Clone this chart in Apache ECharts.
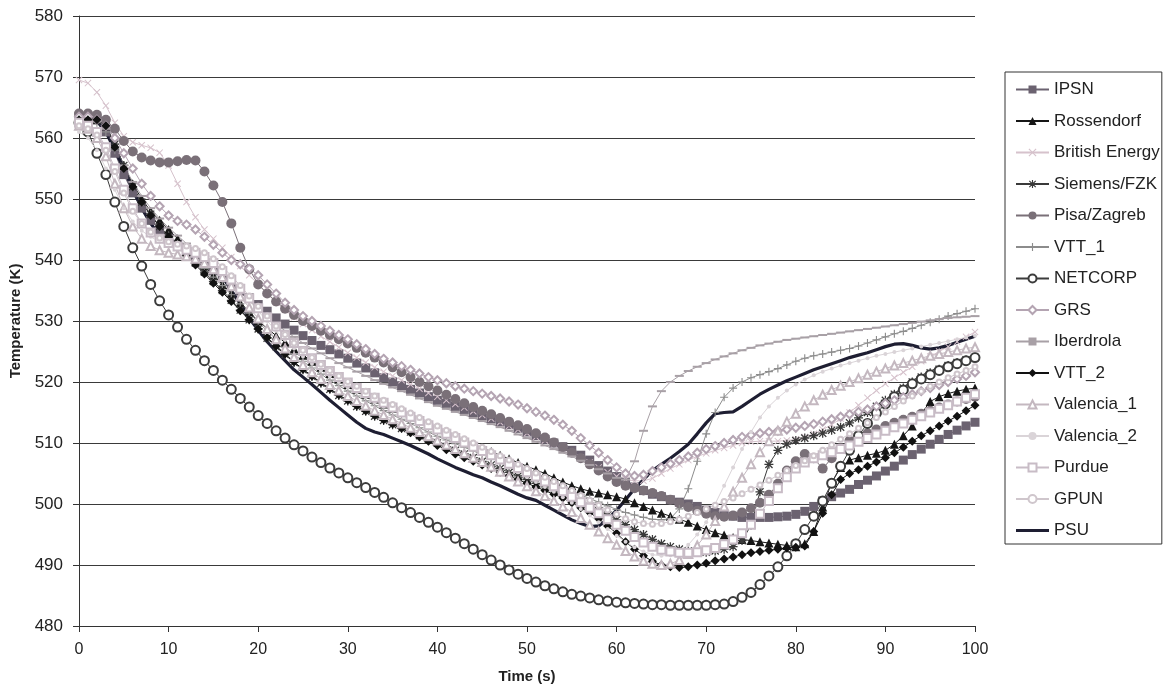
<!DOCTYPE html>
<html>
<head>
<meta charset="utf-8">
<script src="https://cdn.jsdelivr.net/npm/echarts@6/dist/echarts.min.js"></script>
<style>
  html, body { margin: 0; padding: 0; background: #ffffff; }
  #chart { width: 1164px; height: 690px; }
</style>
</head>
<body>
<div id="chart"></div>
<script>
// Time axis (s)
const time = [0,1,2,3,4,5,6,7,8,9,10,11,12,13,14,15,16,17,18,19,20,21,22,23,24,25,26,27,28,29,30,31,32,33,34,35,36,37,38,39,40,41,42,43,44,45,46,47,48,49,50,51,52,53,54,55,56,57,58,59,60,61,62,63,64,65,66,67,68,69,70,71,72,73,74,75,76,77,78,79,80,81,82,83,84,85,86,87,88,89,90,91,92,93,94,95,96,97,98,99,100];

// Temperature (K) per participant
const ipsn = [563.5,563.5,563,561,557.5,554,551,548.5,546.5,545,
  543.8,542.6,541.5,540.4,539.3,538.2,537.1,536,534.9,533.8,
  532.7,531.6,530.5,529.5,528.5,527.6,526.8,526,525.3,524.6,
  523.9,523.1,522.3,521.5,520.7,520,519.4,518.8,518.2,517.6,
  517,516.5,516,515.5,515,514.5,514,513.5,513,512.4,
  511.8,511.2,510.6,510,509.4,508.8,508,507.2,506.3,505.4,
  504.5,503.6,502.8,502.2,501.6,501.2,500.7,500.3,500,499.6,
  499,498.6,498.3,498,497.8,497.8,497.8,497.8,497.9,498,
  498.3,498.8,499.6,500.5,501.2,501.8,502.4,503.2,503.9,504.6,
  505.4,506.2,507.2,508.1,509,509.8,510.6,511.4,512.1,512.8,513.4];

const rossendorf = [563,563,563,562,559,555.5,552.5,550,548,546.5,
  545,543.5,542,540.5,539,537.5,536,534.5,533,531.5,
  530,528.8,527.6,526.5,525.4,524.4,523.4,522.4,521.4,520.5,
  519.6,518.8,518,517.2,516.4,515.7,515,514.3,513.6,512.9,
  512.2,511.6,511,510.4,509.8,509.2,508.6,508,507.4,506.8,
  506.2,505.6,505,504.3,503.6,503,502.5,502.1,501.8,501.5,
  501.2,500.8,500.2,499.6,499,498.5,498,497.5,497,496.4,
  495.8,495.3,494.9,494.5,494.2,494,493.8,493.6,493.4,493.2,
  493,493.5,495.5,499.5,503.5,506,507.2,507.6,508,508.3,
  508.8,509.8,511.2,512.8,514.8,516.8,517.6,518.1,518.5,518.8,519];

const britishEnergy = [569.5,569,567.5,565.3,562.5,560.3,559.3,558.8,558.4,557.6,
  555.5,552.5,549.5,547,545,543.5,542,540.5,539,537.5,
  536,534.5,533,531.8,530.6,529.5,528.5,527.5,526.6,525.7,
  524.8,524,523.2,522.4,521.7,521,520.3,519.6,518.9,518.2,
  517.6,517,516.4,515.8,515.2,514.6,514,513.4,512.8,512.2,
  511.6,511,510.4,509.8,509.1,508.4,507.6,506.8,506,505.2,
  504.5,504,503.8,503.8,504.2,505,505.8,506.5,507.2,507.8,
  508.3,508.8,509.2,509.6,510,510.2,510.3,510.3,510.3,510.4,
  510.6,511,511.5,512.2,513,514,515,516.2,517.4,518.6,
  519.7,520.7,521.6,522.5,523.4,524.2,525,525.8,526.6,527.4,528.2];

const siemensFzk = [563.5,563.5,563.2,562,559,555.5,552,549.5,547.5,545.5,
  543.8,542.3,541,539.5,538,536.5,535,533.4,531.8,530.2,
  528.7,527.2,525.8,524.5,523.2,522,520.9,519.8,518.8,517.8,
  516.9,516,515.2,514.4,513.7,513,512.4,511.8,511.2,510.6,
  510,509.4,508.8,508.2,507.6,507,506.4,505.8,505.2,504.6,
  504,503.4,502.8,502.2,501.6,501,500.3,499.6,498.9,498.2,
  497.4,496.6,495.8,495,494.2,493.5,493,492.6,492.3,492.1,
  492.1,492.3,492.6,493,494,496.5,502,506.5,508.8,509.8,
  510.4,510.8,511.2,511.6,512.1,512.6,513.3,514.1,515,516,
  517,518,519,520,520.8,521.5,522.1,522.7,523.2,523.6,524];

const pisaZagreb = [564,564,563.8,563,561.5,559.5,557.8,556.8,556.3,556,
  556,556.2,556.4,556.3,554.5,552.2,549.5,546,542,538.5,
  536,534.5,533.2,532,531,530,529.2,528.4,527.7,527,
  526.3,525.6,524.8,524,523.2,522.4,521.6,520.8,520,519.3,
  518.6,517.9,517.2,516.5,515.9,515.3,514.7,514.1,513.5,512.9,
  512.3,511.6,510.9,510.1,509.3,508.4,507.5,506.5,505.5,504.5,
  503.6,503,502.6,502.2,501.8,501.3,500.7,500.1,499.5,498.9,
  498.4,498,497.9,498.1,498.6,499.3,500.2,501.5,503.3,505.5,
  507,508.2,507.5,505.8,507.5,509.2,510.4,511,511.6,512.2,
  512.8,513.3,513.8,514.3,514.8,515.3,515.8,516.3,516.8,517.2,517.6];

const vtt1 = [563,563,562.5,561,558,555,552,549.5,547.5,545.5,
  544,542.6,541.3,540,538.6,537.2,535.8,534.3,532.8,531.3,
  529.8,528.4,527,525.7,524.5,523.4,522.3,521.3,520.3,519.4,
  518.5,517.7,516.9,516.1,515.3,514.6,513.9,513.2,512.5,511.8,
  511.1,510.5,509.9,509.3,508.7,508.1,507.5,506.9,506.3,505.7,
  505.1,504.5,503.9,503.3,502.7,502.1,501.5,500.9,500.3,499.7,
  499.1,498.6,498.2,497.8,497.5,497.4,497.6,499.2,502.5,507,
  511.5,515,517.5,519,520,520.7,521.2,521.7,522.2,522.8,
  523.4,523.9,524.3,524.6,524.9,525.2,525.5,525.9,526.4,526.9,
  527.4,527.9,528.3,528.8,529.3,529.8,530.3,530.8,531.2,531.6,532];

const netcorp = [562.5,561,557.5,554,549.5,545.5,542,539,536,533.3,
  531,529,527,525.2,523.5,521.9,520.3,518.8,517.3,515.9,
  514.5,513.2,512,510.8,509.7,508.7,507.7,506.8,505.9,505.1,
  504.3,503.5,502.7,501.9,501.1,500.2,499.4,498.6,497.8,497,
  496.2,495.3,494.4,493.5,492.6,491.7,490.8,490,489.2,488.5,
  487.8,487.2,486.6,486.1,485.6,485.2,484.9,484.6,484.3,484.1,
  483.9,483.8,483.7,483.6,483.5,483.5,483.4,483.4,483.4,483.4,
  483.4,483.5,483.6,484,484.7,485.5,486.8,488.2,489.7,491.5,
  493.5,495.8,498,500.5,503.4,506.2,508.8,511.2,513.2,514.9,
  516.4,517.6,518.7,519.7,520.5,521.2,521.9,522.5,523,523.5,524];

const grs = [563.5,563.5,563,562,560,557.5,555,552.5,550.5,548.8,
  547.3,546.4,545.8,545,543.8,542.5,541.2,540,539.3,538.6,
  537.5,536,534.5,533,531.8,530.8,530,529.2,528.4,527.7,
  527,526.2,525.4,524.6,523.8,523.2,522.6,522,521.4,520.8,
  520.3,519.8,519.3,518.9,518.5,518.1,517.7,517.3,516.8,516.3,
  515.7,515.1,514.5,513.8,513,512,510.8,509.6,508.4,507.2,
  506,505,504.6,504.8,505.4,506,506.6,507.2,507.8,508.4,
  509,509.5,510,510.5,511,511.3,511.6,511.8,512,512.2,
  512.5,512.8,513.1,513.5,513.9,514.3,514.7,515.1,515.5,516,
  516.5,517,517.5,518,518.5,519,519.5,520,520.5,521,521.6];

const iberdrola = [563,563,562.8,561.5,558.5,555.5,552.8,550.5,548.5,546.8,
  545.3,544,542.7,541.4,540.1,538.8,537.5,536.1,534.7,533.3,
  532,530.7,529.5,528.4,527.4,526.4,525.5,524.7,523.9,523.1,
  522.4,521.7,521,520.3,519.7,519.1,518.5,517.9,517.3,516.7,
  516.1,515.6,515.1,514.6,514.1,513.6,513.1,512.6,512,511.4,
  510.8,510.2,509.6,509,508.4,507.8,507.1,506.4,505.7,505,
  504.3,504,507,512,516,518.5,520,521,521.8,522.5,
  523.1,523.7,524.2,524.7,525.2,525.6,526,526.3,526.6,526.9,
  527.1,527.3,527.5,527.7,527.9,528.1,528.3,528.5,528.7,528.9,
  529.1,529.3,529.5,529.7,529.9,530.1,530.3,530.5,530.6,530.7,530.8];

const vtt2 = [563,563,563,562,558.5,555,552,549.5,547.3,545.5,
  543.8,542.2,540.7,539.2,537.7,536.2,534.7,533.2,531.7,530.2,
  528.7,527.3,525.9,524.6,523.3,522.1,521,519.9,518.9,517.9,
  517,516.1,515.3,514.5,513.8,513.1,512.4,511.7,511,510.3,
  509.6,508.9,508.2,507.6,507,506.4,505.8,505.2,504.6,504,
  503.4,502.8,502.2,501.6,501,500.2,499.4,498.6,497.6,496.4,
  495.2,493.8,492.6,491.5,490.6,490,489.7,489.6,489.7,490,
  490.3,490.7,491,491.3,491.7,492,492.2,492.4,492.6,492.8,
  492.9,493.1,495.5,498.5,501.5,504,505,505.6,506.2,506.9,
  507.6,508.4,509.3,510.3,511.2,512,512.8,513.6,514.4,515.3,516.2];

const valencia1 = [562,561.5,560,557,552.5,548.5,545.5,543.5,542.3,541.6,
  541.2,540.9,540.6,540.2,539.5,538.5,537.2,535.7,534,532.2,
  530.4,528.7,527,525.5,524.1,522.8,521.6,520.5,519.5,518.6,
  517.7,516.9,516.1,515.3,514.6,513.9,513.2,512.5,511.8,511.1,
  510.4,509.7,509,508.3,507.6,506.9,506.1,505.3,504.5,503.7,
  502.9,502.1,501.3,500.5,499.6,498.7,497.7,496.6,495.5,494.4,
  493.3,492.3,491.4,490.7,490.2,490,490.2,490.8,491.8,493.2,
  495,497.2,499.6,502,504.3,506.5,508.5,510.3,512,513.5,
  514.8,516,517,517.9,518.7,519.4,520,520.6,521.2,521.7,
  522.2,522.7,523.1,523.5,523.9,524.3,524.6,524.9,525.2,525.5,525.7];

const valencia2 = [561,560,558,555,551.5,548.5,546.3,544.8,543.8,543,
  542.4,542,541.6,541.1,540.4,539.4,538.1,536.6,535,533.3,
  531.6,530,528.4,526.9,525.5,524.2,523,521.9,520.9,520,
  519.1,518.3,517.5,516.7,516,515.3,514.6,513.9,513.2,512.5,
  511.8,511.1,510.4,509.7,509,508.3,507.6,506.8,506,505.2,
  504.4,503.6,502.8,502,501.1,500.2,499.2,498.1,497,495.9,
  494.8,493.8,492.9,492.2,491.7,491.5,491.6,492.2,493.3,495,
  497,500,503,506,509,511.8,514.2,516,517.4,518.6,
  519.6,520.4,521.1,521.7,522.2,522.7,523.1,523.5,523.9,524.3,
  524.6,524.9,525.2,525.5,525.8,526.1,526.4,526.7,527,527.3,527.6];

const purdue = [562.5,562,561,558.5,555,551.5,548.5,546,544.5,543.5,
  542.8,542.2,541.7,541.2,540.5,539.5,538.2,536.8,535.3,533.7,
  532.1,530.6,529.1,527.7,526.4,525.1,523.9,522.8,521.8,520.8,
  519.9,519,518.2,517.4,516.6,515.8,515,514.3,513.6,512.9,
  512.2,511.5,510.8,510.1,509.4,508.7,508,507.3,506.6,505.9,
  505.2,504.5,503.7,502.9,502.1,501.2,500.3,499.4,498.5,497.5,
  496.6,495.6,494.6,493.7,493,492.5,492.2,492,492,492.1,
  492.4,492.8,493.4,494.2,495.2,496.6,498.4,500.5,502.6,504.4,
  505.8,506.8,507.5,508,508.5,509,509.6,510.2,510.8,511.4,
  512,512.6,513.2,513.8,514.4,515,515.6,516.2,516.8,517.4,518];

const gpun = [562,561.5,560.5,558,554.5,551,548,546,544.6,543.6,
  543,542.6,542.3,541.9,541.2,540.2,538.9,537.4,535.8,534.1,
  532.4,530.8,529.2,527.8,526.4,525.2,524,522.9,521.9,521,
  520.1,519.3,518.5,517.7,517,516.3,515.6,514.9,514.2,513.5,
  512.8,512.1,511.4,510.7,510,509.3,508.6,507.9,507.2,506.5,
  505.8,505.1,504.4,503.7,503,502.2,501.4,500.6,499.8,499,
  498.3,497.6,497.1,496.8,496.7,496.8,497.1,497.5,498,498.6,
  499.2,499.8,500.4,501,501.7,502.4,503.1,503.9,504.7,505.5,
  506.3,507.1,507.9,508.8,509.7,510.6,511.5,512.4,513.3,514.2,
  515.1,516,516.9,517.7,518.5,519.3,520,520.7,521.3,521.9,522.5];

const psu = [563,563,562.8,561,558,555,551.5,548.5,546,544,
  542.5,542,541.7,541.4,540.8,539.3,537.3,535,532.8,530.5,
  528.5,526.6,525,523.5,522,520.8,519.6,518.3,517,515.8,
  514.6,513.4,512.4,511.8,511.4,510.8,510.2,509.6,508.9,508.2,
  507.4,506.7,506,505.4,504.8,504.3,503.6,503,502.3,501.6,
  501,500.6,499.8,499,498.2,497.4,496.8,496.3,496.4,497.5,
  499,500.7,502.5,504,505.5,506.5,507.5,508.6,509.8,511.5,
  513.3,514.8,515,515.1,516,517,518,518.8,519.5,520.2,
  520.8,521.4,522,522.5,523,523.5,524,524.4,524.8,525.3,
  525.8,526.2,526.3,526,525.6,525.4,525.6,526,526.5,527,527.5];

const seriesNames = ['IPSN','Rossendorf','British Energy','Siemens/FZK','Pisa/Zagreb','VTT_1','NETCORP','GRS','Iberdrola','VTT_2','Valencia_1','Valencia_2','Purdue','GPUN','PSU'];
const seriesValues = [ipsn, rossendorf, britishEnergy, siemensFzk, pisaZagreb, vtt1, netcorp, grs, iberdrola, vtt2, valencia1, valencia2, purdue, gpun, psu];

// Marker shapes
const PLUS = 'path://M4.3,0H5.7V4.3H10V5.7H5.7V10H4.3V5.7H0V4.3H4.3Z';
const CROSS = 'path://M1,0L5,4L9,0L10,1L6,5L10,9L9,10L5,6L1,10L0,9L4,5L0,1Z';
const STAR = 'path://M4.3,0H5.7V4.3H10V5.7H5.7V10H4.3V5.7H0V4.3H4.3Z M1.5,0.5L5,4L8.5,0.5L9.5,1.5L6,5L9.5,8.5L8.5,9.5L5,6L1.5,9.5L0.5,8.5L4,5L0.5,1.5Z';
const DASH = 'path://M0,4H10V6H0Z';
const BAR = 'path://M0,0H33V3.2H0Z';

// Per-series look: [line colour, marker, marker size, line width, marker border]
const looks = [
  ['#6b6270', 'rect', 9, 1, 0],
  ['#161616', 'triangle', 9, 1, 0],
  ['#d6c2cc', CROSS, 7, 1, 0],
  ['#3a3a3a', STAR, 9, 1, 0],
  ['#7a7078', 'circle', 10, 1, 0],
  ['#8c8c8c', PLUS, 8, 1, 0],
  ['#3c3c3c', 'emptyCircle', 9, 1, 1.3],
  ['#b4a4b2', 'emptyDiamond', 8, 1, 1.2],
  ['#a8a0a6', DASH, [9, 2], 1, 0],
  ['#111111', 'diamond', 9, 1, 0],
  ['#c4b8c0', 'emptyTriangle', 8, 1, 1.1],
  ['#dad4d8', 'circle', 4, 1, 0],
  ['#c8bcc6', 'emptyRect', 8, 1, 1.1],
  ['#cfc6cc', 'emptyCircle', 5, 1, 1],
  ['#1e1e32', 'none', 0, 3.2, 0]
];

const series = seriesNames.map(function (name, i) {
  const lk = looks[i];
  return {
    name: name,
    type: 'line',
    data: time.map(function (t, k) { return [t, seriesValues[i][k]]; }),
    symbol: lk[1],
    symbolSize: lk[2],
    showSymbol: lk[1] !== 'none',
    lineStyle: { color: lk[0], width: lk[3] },
    itemStyle: { color: lk[0], borderColor: lk[0], borderWidth: lk[4] },
    emphasis: { disabled: true },
    z: 2
  };
});

const legendItems = seriesNames.map(function (name) {
  return name === 'PSU' ? { name: name, icon: BAR } : { name: name };
});

const chart = echarts.init(document.getElementById('chart'), null, { renderer: 'canvas' });
chart.setOption({
  animation: false,
  backgroundColor: '#ffffff',
  textStyle: { fontFamily: 'Liberation Sans, Arial, sans-serif' },
  grid: { left: 79, right: 189, top: 16, bottom: 64 },
  xAxis: {
    type: 'value',
    min: 0, max: 100, interval: 10,
    name: 'Time (s)',
    nameLocation: 'middle',
    nameGap: 43,
    nameTextStyle: { fontSize: 15, fontWeight: 'bold', color: '#222' },
    axisLine: { show: true, lineStyle: { color: '#333', width: 1 } },
    axisTick: { show: true, inside: false, length: 6, lineStyle: { color: '#333' } },
    axisLabel: { fontSize: 16, color: '#222', margin: 16 },
    splitLine: { show: false }
  },
  yAxis: {
    type: 'value',
    min: 480, max: 580, interval: 10,
    name: 'Temperature (K)',
    nameLocation: 'middle',
    nameGap: 44,
    nameRotate: 90,
    nameTextStyle: { fontSize: 15, fontWeight: 'bold', color: '#222' },
    axisLine: { show: true, lineStyle: { color: '#333', width: 1 } },
    axisTick: { show: true, inside: false, length: 6, lineStyle: { color: '#333' } },
    axisLabel: { fontSize: 17, color: '#222', margin: 16 },
    splitLine: { show: true, lineStyle: { color: '#3a3a3a', width: 1 } }
  },
  legend: {
    orient: 'vertical',
    left: 1005,
    top: 72,
    padding: [9, 2, 5, 10],
    itemWidth: 33,
    itemHeight: 10,
    itemGap: 14.5,
    borderColor: '#333',
    borderWidth: 1,
    backgroundColor: '#ffffff',
    selectedMode: false,
    textStyle: { fontSize: 17, color: '#222' },
    data: legendItems
  },
  series: series
});
</script>
</body>
</html>
